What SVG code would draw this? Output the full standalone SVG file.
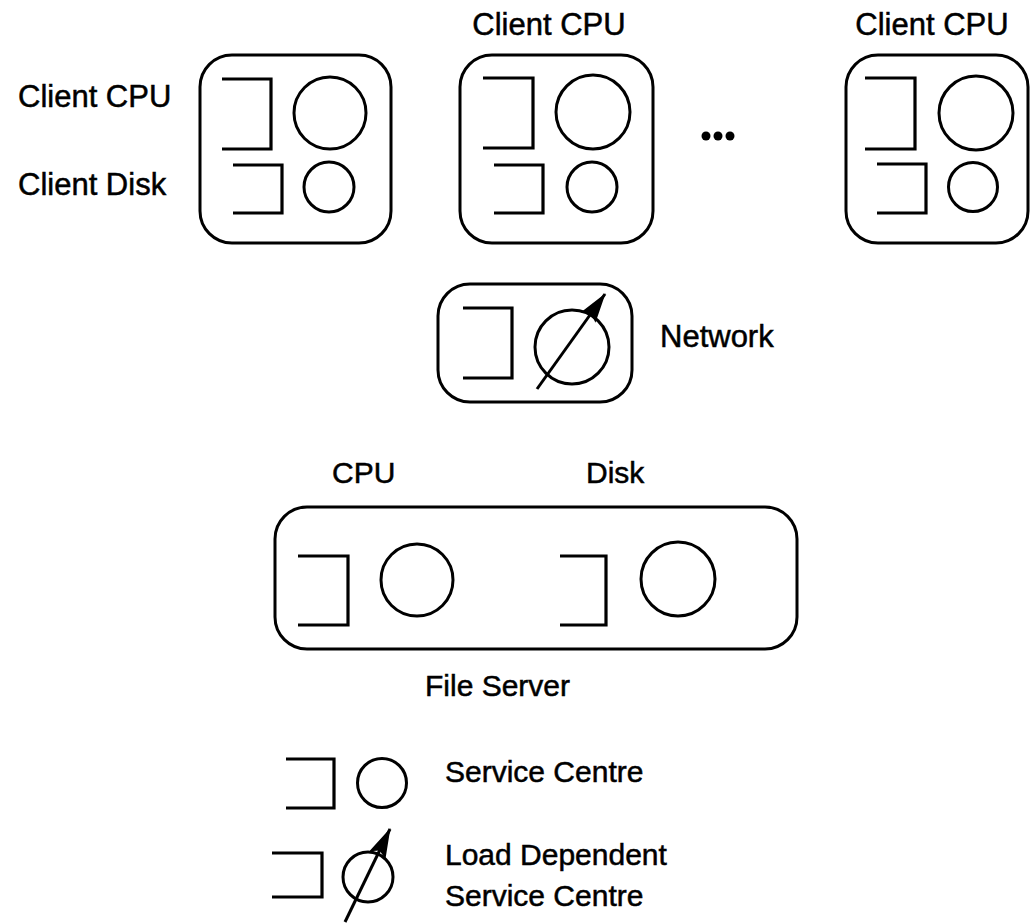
<svg xmlns="http://www.w3.org/2000/svg" width="1030" height="924" viewBox="0 0 1030 924">
  <defs>
    <style>
      .box { fill: none; stroke: #000; stroke-width: 3; }
      .q { fill: none; stroke: #000; stroke-width: 3.2; stroke-linejoin: miter; }
      .c { fill: none; stroke: #000; stroke-width: 3; }
      .ld { stroke: #000; stroke-width: 3; fill: none; }
      .lbl { font-family: "Liberation Sans", Arial, sans-serif; font-size: 30px; fill: #000; stroke: #000; stroke-width: 0.5; }
      .wide { font-size: 31px; }
      .mid { text-anchor: middle; }
    </style>
    <marker id="tip" viewBox="0 0 30 18" refX="29" refY="9" markerWidth="30" markerHeight="18" markerUnits="userSpaceOnUse" orient="auto">
      <path d="M0,0 L30,9 L0,18 L5,9 Z" fill="#000"/>
    </marker>
  </defs>

  <!-- client workstation 1 -->
  <g id="client1">
    <rect class="box" x="200" y="55" width="191" height="188" rx="32"/>
    <path class="q" d="M222,79 H271 V149 H222"/>
    <circle class="c" cx="330" cy="113" r="36"/>
    <path class="q" d="M233,165 H282 V213 H233"/>
    <circle class="c" cx="329" cy="187" r="25"/>
    <text class="lbl wide" x="18" y="107">Client CPU</text>
    <text class="lbl wide" x="18" y="195">Client Disk</text>
  </g>

  <!-- client workstation 2 -->
  <g id="client2">
    <rect class="box" x="460" y="55" width="193" height="188" rx="32"/>
    <path class="q" d="M483,78 H533 V148 H483"/>
    <circle class="c" cx="593" cy="112" r="37"/>
    <path class="q" d="M494,165 H543 V213 H494"/>
    <circle class="c" cx="592" cy="187" r="25"/>
    <text class="lbl wide mid" x="549" y="35">Client CPU</text>
  </g>

  <!-- ellipsis between clients -->
  <g id="more">
    <circle cx="706" cy="136" r="4.5"/>
    <circle cx="718" cy="136" r="4.5"/>
    <circle cx="730" cy="136" r="4.5"/>
  </g>

  <!-- client workstation N -->
  <g id="clientN">
    <rect class="box" x="846" y="55" width="182" height="188" rx="32"/>
    <path class="q" d="M865,78 H915 V149 H865"/>
    <circle class="c" cx="976" cy="113" r="37"/>
    <path class="q" d="M877,164 H926 V213 H877"/>
    <circle class="c" cx="973" cy="187" r="24.5"/>
    <text class="lbl wide mid" x="932" y="35">Client CPU</text>
  </g>

  <!-- network (load dependent) -->
  <g id="network">
    <rect class="box" x="438" y="284" width="194" height="118" rx="32"/>
    <path class="q" d="M463,308 H512 V378 H463"/>
    <circle class="c" cx="572" cy="347" r="37"/>
    <text class="lbl wide" x="660" y="347">Network</text>
  </g>

  <!-- file server -->
  <g id="fileserver">
    <rect class="box" x="275" y="507" width="522" height="142" rx="32"/>
    <path class="q" d="M298,556 H348 V625 H298"/>
    <circle class="c" cx="417" cy="580" r="36"/>
    <path class="q" d="M560,556 H606 V625 H560"/>
    <circle class="c" cx="678" cy="579" r="37"/>
    <text class="lbl" x="332" y="483">CPU</text>
    <text class="lbl" x="586" y="483">Disk</text>
    <text class="lbl" x="425" y="696">File Server</text>
  </g>

  <!-- legend -->
  <g id="legend">
    <path class="q" d="M286,759 H334 V808 H286"/>
    <circle class="c" cx="382" cy="783" r="24.5"/>
    <text class="lbl" x="445" y="782">Service Centre</text>
    <path class="q" d="M272,853 H322 V897 H272"/>
    <circle class="c" cx="368" cy="877" r="25"/>
    <text class="lbl" x="445" y="865">Load Dependent</text>
    <text class="lbl" x="445" y="906">Service Centre</text>
  </g>

  <!-- load-dependence arrows -->
  <g id="connectors">
    <line class="ld" x1="537" y1="389" x2="605" y2="294" marker-end="url(#tip)"/>
    <line class="ld" x1="345" y1="922" x2="390" y2="829" marker-end="url(#tip)"/>
  </g>
</svg>
